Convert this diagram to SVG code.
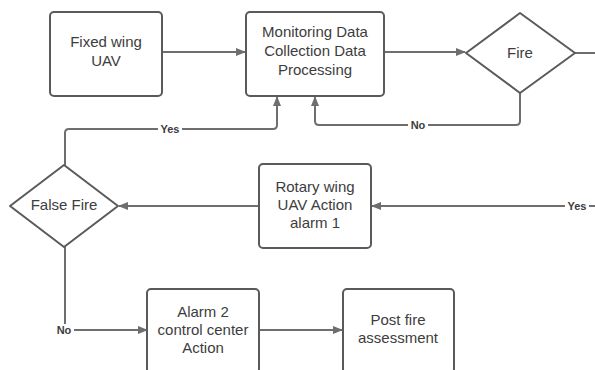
<svg xmlns="http://www.w3.org/2000/svg" width="595" height="370" viewBox="0 0 595 370">
<defs>
<style>
.box{fill:#fff;stroke:#5a5a5a;stroke-width:2}
.t{font-family:"Liberation Sans",Arial,sans-serif;font-size:15px;fill:#3d3d3d;text-anchor:middle}
.ln{fill:none;stroke:#6e6e6e;stroke-width:2}
.lb{font-family:"Liberation Sans",Arial,sans-serif;font-size:11px;font-weight:bold;fill:#3d3d3d;text-anchor:middle}
.lbg{fill:#fff}
</style>
<marker id="ah" markerWidth="10" markerHeight="10" refX="9" refY="5" orient="auto" markerUnits="userSpaceOnUse">
<path d="M0,1 L10,5 L0,9 Z" fill="#6e6e6e"/>
</marker>
</defs>
<rect width="595" height="370" fill="#fff"/>
<g id="connectors">
<path class="ln" d="M162,52 H245" marker-end="url(#ah)"/>
<path class="ln" d="M384,52 H465" marker-end="url(#ah)"/>
<path class="ln" d="M575,53 H595"/>
<path class="ln" d="M520,93 V121 Q520,125 516,125 H319 Q315,125 315,121 V97" marker-end="url(#ah)"/>
<path class="ln" d="M65,165 V133 Q65,129 69,129 H273 Q277,129 277,125 V97" marker-end="url(#ah)"/>
<path class="ln" d="M595,206 H372" marker-end="url(#ah)"/>
<path class="ln" d="M259,206 H119" marker-end="url(#ah)"/>
<path class="ln" d="M65,247 V330 H147" marker-end="url(#ah)"/>
<path class="ln" d="M259,330 H342" marker-end="url(#ah)"/>
<rect class="lbg" x="158" y="123" width="24" height="12"/>
<text class="lb" x="170" y="133">Yes</text>
<rect class="lbg" x="408" y="119" width="20" height="12"/>
<text class="lb" x="418" y="129">No</text>
<rect class="lbg" x="565" y="200" width="24" height="12"/>
<text class="lb" x="577" y="210">Yes</text>
<rect class="lbg" x="54" y="324" width="20" height="12"/>
<text class="lb" x="64" y="334">No</text>
</g>
<g id="fixed-wing">
<rect class="box" x="50" y="12" width="112" height="84" rx="4"/>
<text class="t" x="106" y="47">Fixed wing</text>
<text class="t" x="106" y="66">UAV</text>
</g>
<g id="monitoring">
<rect class="box" x="246" y="12" width="138" height="84" rx="4"/>
<text class="t" x="315" y="37">Monitoring Data</text>
<text class="t" x="315" y="56">Collection Data</text>
<text class="t" x="315" y="75">Processing</text>
</g>
<g id="fire">
<path class="box" d="M520,13 L575,53 L520,93 L466,53 Z" stroke-linejoin="round"/>
<text class="t" x="520" y="58">Fire</text>
</g>
<g id="false-fire">
<path class="box" d="M64,165 L118,206 L64,247 L10,206 Z" stroke-linejoin="round"/>
<text class="t" x="64" y="210">False Fire</text>
</g>
<g id="rotary">
<rect class="box" x="259" y="164" width="112" height="84" rx="4"/>
<text class="t" x="315" y="192">Rotary wing</text>
<text class="t" x="315" y="210">UAV Action</text>
<text class="t" x="315" y="228">alarm 1</text>
</g>
<g id="alarm2">
<rect class="box" x="147" y="289" width="112" height="84" rx="4"/>
<text class="t" x="203" y="317">Alarm 2</text>
<text class="t" x="203" y="335">control center</text>
<text class="t" x="203" y="353">Action</text>
</g>
<g id="post-fire">
<rect class="box" x="343" y="289" width="111" height="84" rx="4"/>
<text class="t" x="398" y="325">Post fire</text>
<text class="t" x="398" y="343">assessment</text>
</g>
</svg>
